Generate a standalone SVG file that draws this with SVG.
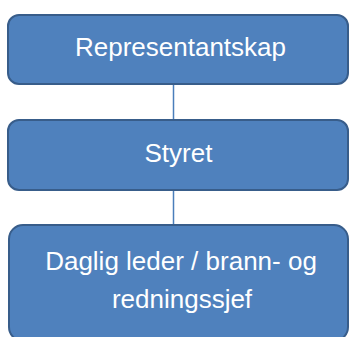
<svg xmlns="http://www.w3.org/2000/svg" width="350" height="337" viewBox="0 0 350 337">
<style>
.box{fill:#4F81BD;stroke:#385D8A;stroke-width:2}
.lbl{font-family:"Liberation Sans",Arial,sans-serif;font-size:26px;fill:#FFFFFF;text-anchor:middle}
.conn{stroke:#4A7EBB;stroke-width:1.5;fill:none}
</style>
<rect width="350" height="337" fill="#FFFFFF"/>
<g id="connectors">
<line class="conn" x1="173.5" y1="84" x2="173.5" y2="120"/>
<line class="conn" x1="173.5" y1="190" x2="173.5" y2="225"/>
</g>
<g id="node-representantskap">
<rect class="box" x="8" y="15" width="340" height="69" rx="11"/>
<text class="lbl" x="180.5" y="56">Representantskap</text>
</g>
<g id="node-styret">
<rect class="box" x="8" y="120" width="340" height="70" rx="11"/>
<text class="lbl" x="178.5" y="162">Styret</text>
</g>
<g id="node-daglig-leder">
<rect class="box" x="9" y="225" width="339" height="116" rx="14"/>
<text class="lbl" x="181" y="270">Daglig leder / brann- og</text>
<text class="lbl" x="182" y="308">redningssjef</text>
</g>
</svg>
